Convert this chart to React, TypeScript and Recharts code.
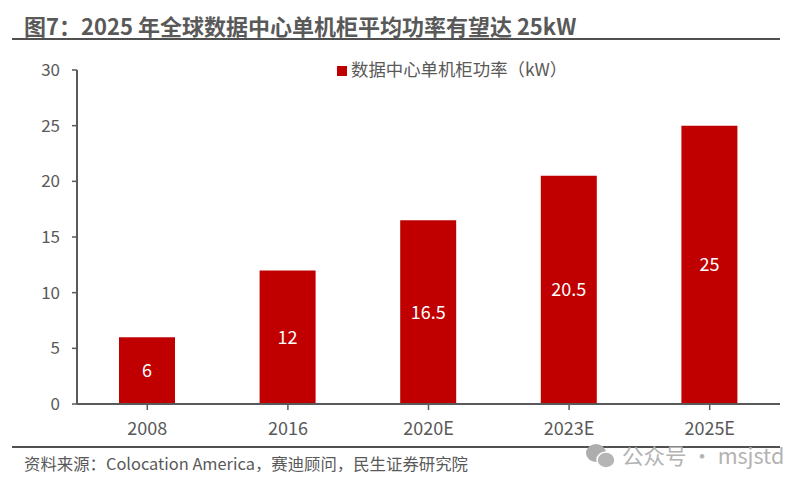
import React from "react";
import { BarChart, Bar, XAxis, YAxis, LabelList, Legend } from "recharts";

const categories = ["2008", "2016", "2020E", "2023E", "2025E"];
const powerValues = [6, 12, 16.5, 20.5, 25];
const yTicks = [0, 5, 10, 15, 20, 25, 30];
const seriesName = "数据中心单机柜功率（kW）";
const titleText = "图7：2025 年全球数据中心单机柜平均功率有望达 25kW";
const sourceText = "资料来源：Colocation America，赛迪顾问，民生证券研究院";
const watermarkText = "公众号 · msjstd";

const data = categories.map((c, i) => ({ category: c, power: powerValues[i] }));
const FONT = '"Noto Sans CJK SC", "Noto Sans", sans-serif';
const GREY = "#595959";

export default function App() {
  return (
    <div style={{ position: "absolute", left: 0, top: 0, width: 809, height: 488, background: "#fff", fontFamily: FONT, overflow: "hidden" }}>
      <div style={{ position: "absolute", left: 24, top: 10, fontSize: 22, lineHeight: "30px", fontWeight: 700, color: GREY, whiteSpace: "nowrap" }}>{titleText}</div>
      <div style={{ position: "absolute", left: 12, top: 38, width: 768, height: 2, background: "#505050" }} />
      <BarChart width={809} height={488} data={data} margin={{ top: 70, right: 29, bottom: 54, left: 37 }} barSize={56} style={{ position: "absolute", left: 0, top: 0 }}>
        <XAxis dataKey="category" height={30} tick={{ fill: GREY, fontSize: 18, fontFamily: FONT }} tickSize={6} tickMargin={12} axisLine={{ stroke: GREY, strokeWidth: 2 }} tickLine={{ stroke: GREY, strokeWidth: 1.5 }} interval={0} />
        <YAxis domain={[0, 30]} ticks={yTicks} width={40} tick={{ fill: GREY, fontSize: 17, fontFamily: FONT }} tickSize={5} tickMargin={12} axisLine={{ stroke: GREY, strokeWidth: 2 }} tickLine={{ stroke: GREY, strokeWidth: 1.5 }} interval={0} />
        <Legend verticalAlign="middle" iconType="square" iconSize={10} wrapperStyle={{ position: "absolute", left: 337, top: 56, width: "auto", fontSize: 17.4, fontFamily: FONT }} formatter={(v: string) => <span style={{ color: GREY }}>{v}</span>} />
        <Bar dataKey="power" name={seriesName} fill="#C00000" isAnimationActive={false}>
          <LabelList dataKey="power" position="center" fill="#ffffff" fontSize={18} fontFamily={FONT} />
        </Bar>
      </BarChart>
      <div style={{ position: "absolute", left: 12, top: 446, width: 768, height: 2, background: "#505050" }} />
      <div style={{ position: "absolute", left: 24, top: 451, fontSize: 16.4, lineHeight: "24px", color: GREY, whiteSpace: "nowrap" }}>{sourceText}</div>
      <svg style={{ position: "absolute", left: 585, top: 443 }} width={34} height={30}>
        <ellipse cx={11} cy={10} rx={10} ry={9} fill="#adadad" />
        <ellipse cx={21} cy={17} rx={9} ry={8} fill="#b5b5b5" stroke="#fff" strokeWidth={1.5} />
      </svg>
      <div style={{ position: "absolute", left: 622, top: 442, fontSize: 21.5, lineHeight: "26px", color: "#b3b3b3", whiteSpace: "nowrap" }}>{watermarkText}</div>
    </div>
  );
}
